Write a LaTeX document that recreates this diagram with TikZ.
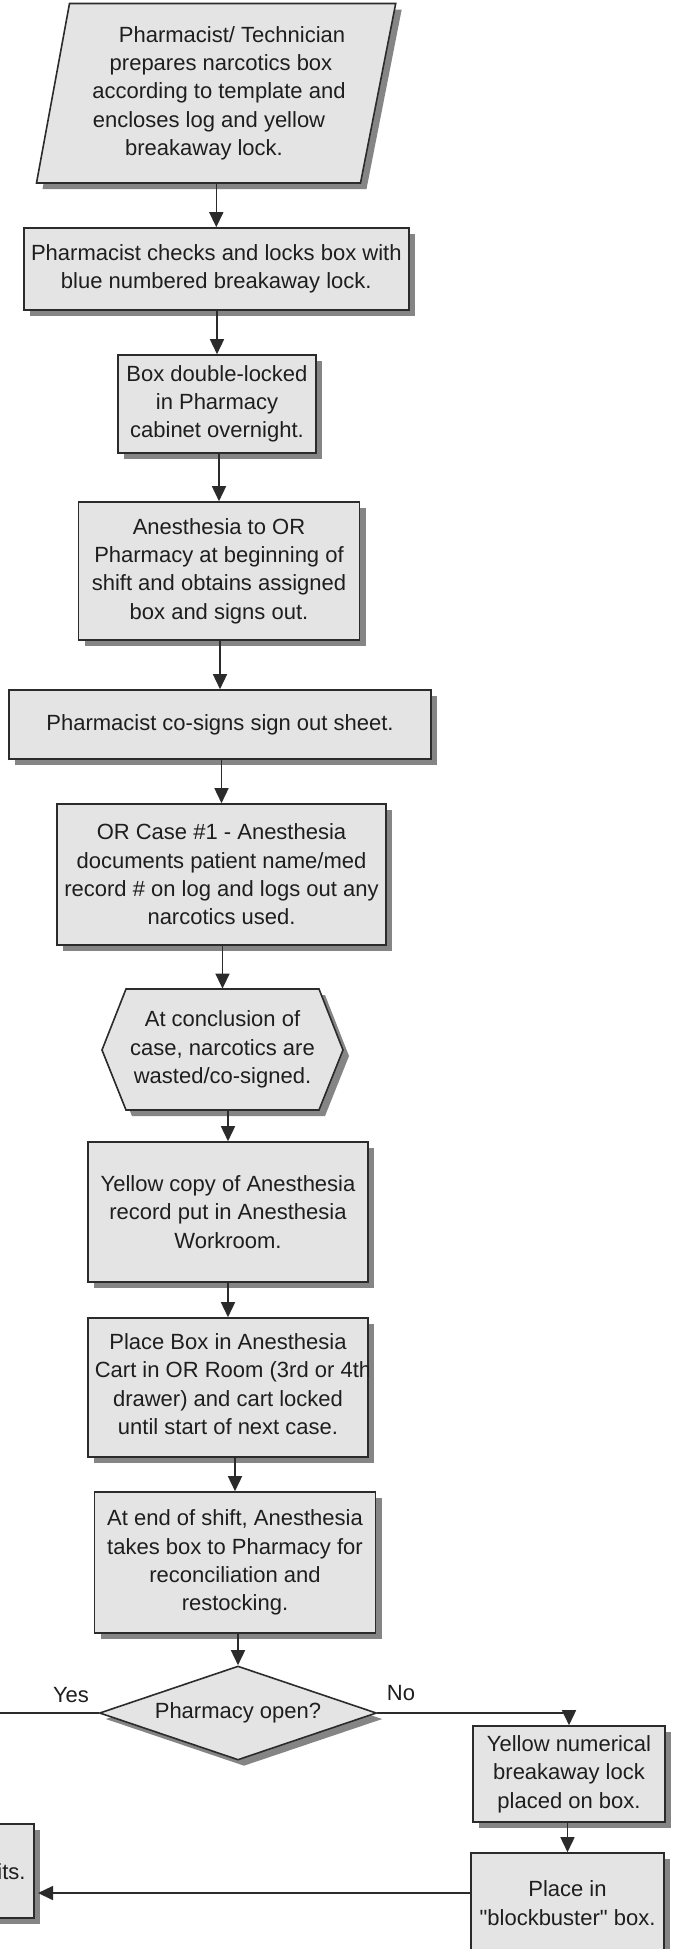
\documentclass[tikz,border=0pt]{standalone}
\usepackage{fontspec}
\setmainfont{Liberation Sans}
\newfontfamily\mainf{Liberation Sans}
\usetikzlibrary{shapes.geometric,shadows,arrows.meta}
\definecolor{boxfill}{HTML}{E4E4E4}
\definecolor{shadowc}{HTML}{858585}
\definecolor{linec}{HTML}{2B2B2B}
\definecolor{textc}{HTML}{1E1E1E}
\begin{document}
\begin{tikzpicture}[x=0.5pt,y=-0.5pt,
  txt/.style={font=\mainf\fontsize{11pt}{14.15pt}\selectfont, text=textc, align=center, inner sep=0pt},
  shadowed/.style={drop shadow={shadow xshift=3pt, shadow yshift=-3pt, fill=shadowc, opacity=1}},
  proc/.style={txt, draw=linec, fill=boxfill, line width=0.8pt, shadowed},
  ghost/.style={txt},
  outline/.style={draw=linec, fill=boxfill, line width=0.8pt},
  arr/.style={draw=linec, line width=0.75pt, -{Triangle[length=7.5pt,width=7pt]}},
  conn/.style={draw=linec, line width=0.75pt}]
\fill[white] (0,0) rectangle (673,1949);
\useasboundingbox (0,0) rectangle (673,1949);
\clip (0,0) rectangle (673,1949);

% 1 parallelogram
\fill[shadowc] (75.5,9.5) -- (401.7,9.5) -- (366.5,189) -- (42.5,189) -- cycle;
\path[outline] (69.5,3.5) -- (395.7,3.5) -- (360.5,183) -- (36.5,183) -- cycle;
\node[ghost, minimum width=163pt, minimum height=89.75pt] (n1) at (216,93.25)
  {\hspace*{16pt}Pharmacist/ Technician\\\hspace*{5pt}prepares narcotics box\\\hspace*{3pt}according to template and\\\hspace*{-7pt}encloses log and yellow\\\hspace*{-12pt}breakaway lock.};

\node[proc, minimum width=192.5pt, minimum height=41pt] (n2) at (216.3,269)
  {Pharmacist checks and locks box with\\blue numbered breakaway lock.};
\node[proc, minimum width=99pt, minimum height=49pt] (n3) at (217,404)
  {Box double-locked\\in Pharmacy\\cabinet overnight.};
\node[proc, minimum width=140.5pt, minimum height=69pt] (n4) at (219,571)
  {Anesthesia to OR\\Pharmacy at beginning of\\shift and obtains assigned\\box and signs out.};
\node[proc, minimum width=211pt, minimum height=34.5pt] (n5) at (220,724.5)
  {Pharmacist co-signs sign out sheet.};
\node[proc, minimum width=164.5pt, minimum height=70.5pt] (n6) at (221.5,874.5)
  {OR Case \#1 - Anesthesia\\documents patient name/med\\record \# on log and logs out any\\narcotics used.};

% 7 hexagon
\fill[shadowc] (108,1056) -- (132,995) -- (325,995) -- (349,1056) -- (325,1116) -- (132,1116) -- cycle;
\path[outline] (102,1050) -- (126,989) -- (319,989) -- (343,1050) -- (319,1110) -- (126,1110) -- cycle;
\node[ghost, minimum width=120.5pt, minimum height=60.5pt] (n7) at (222.5,1049.5)
  {At conclusion of\\case, narcotics are\\wasted/co-signed.};

\node[proc, minimum width=140pt, minimum height=70pt] (n8) at (228,1212)
  {Yellow copy of Anesthesia\\record put in Anesthesia\\Workroom.};
\node[proc, minimum width=140pt, minimum height=69.5pt] (n9) at (228,1387.5) {};
\begin{scope}
  \clip (n9.south west) rectangle (n9.north east);
  \node[txt] (n9t) at ([yshift=1.75pt]n9.center)
    {Place Box in Anesthesia\\\hspace*{5pt}Cart in OR Room (3rd or 4th\\drawer) and cart locked\\until start of next case.};
\end{scope}
\node[proc, minimum width=140.5pt, minimum height=70.5pt] (n10) at (235,1562.5)
  {At end of shift, Anesthesia\\takes box to Pharmacy for\\reconciliation and\\restocking.};
\node[proc, shape=diamond, aspect=2.95, minimum width=138.5pt, minimum height=47pt] (n11) at (238,1713)
  {Pharmacy open?};
\node[proc, minimum width=96pt, minimum height=48pt] (n12) at (569,1774)
  {Yellow numerical\\breakaway lock\\placed on box.};
\node[proc, minimum width=96.5pt, minimum height=50pt] (n13) at (567.5,1903)
  {Place in\\"blockbuster" box.};
\node[proc, minimum width=67pt, minimum height=47pt] (n14) at (-32.8,1871) {};
\node[txt, anchor=east] (n14t) at (26,1872) {its.};

\node[txt] (lyes) at (71,1695) {Yes};
\node[txt] (lno) at (401,1693) {No};

% connectors
\draw[arr] (n2.north |- n1.south) -- (n2.north);
\draw[arr] (n3.north |- n2.south) -- (n3.north);
\draw[arr] (n4.north |- n3.south) -- (n4.north);
\draw[arr] (n5.north |- n4.south) -- (n5.north);
\draw[arr] (n6.north |- n5.south) -- (n6.north);
\draw[arr] (n7.north |- n6.south) -- (n7.north);
\draw[arr] (n8.north |- n7.south) -- (n8.north);
\draw[arr] (n9.north |- n8.south) -- (n9.north);
\draw[arr] (n10.north |- n9.south) -- (n10.north);
\draw[arr] (n11.north |- n10.south) -- (n11.north);
\coordinate (yesend) at (-10,1713);
\draw[conn] (n11.west) -- (yesend |- n11.west);
\draw[conn] (n11.east) -- (n11.east -| n12.north);
\draw[arr] ([yshift=1pt]n11.east -| n12.north) -- (n12.north);
\draw[arr] (n13.north |- n12.south) -- (n13.north);
\coordinate (t13) at ([yshift=5pt]n13.west);
\draw[arr] (t13) -- ([xshift=1.5pt]t13 -| n14.east);
\end{tikzpicture}
\end{document}
